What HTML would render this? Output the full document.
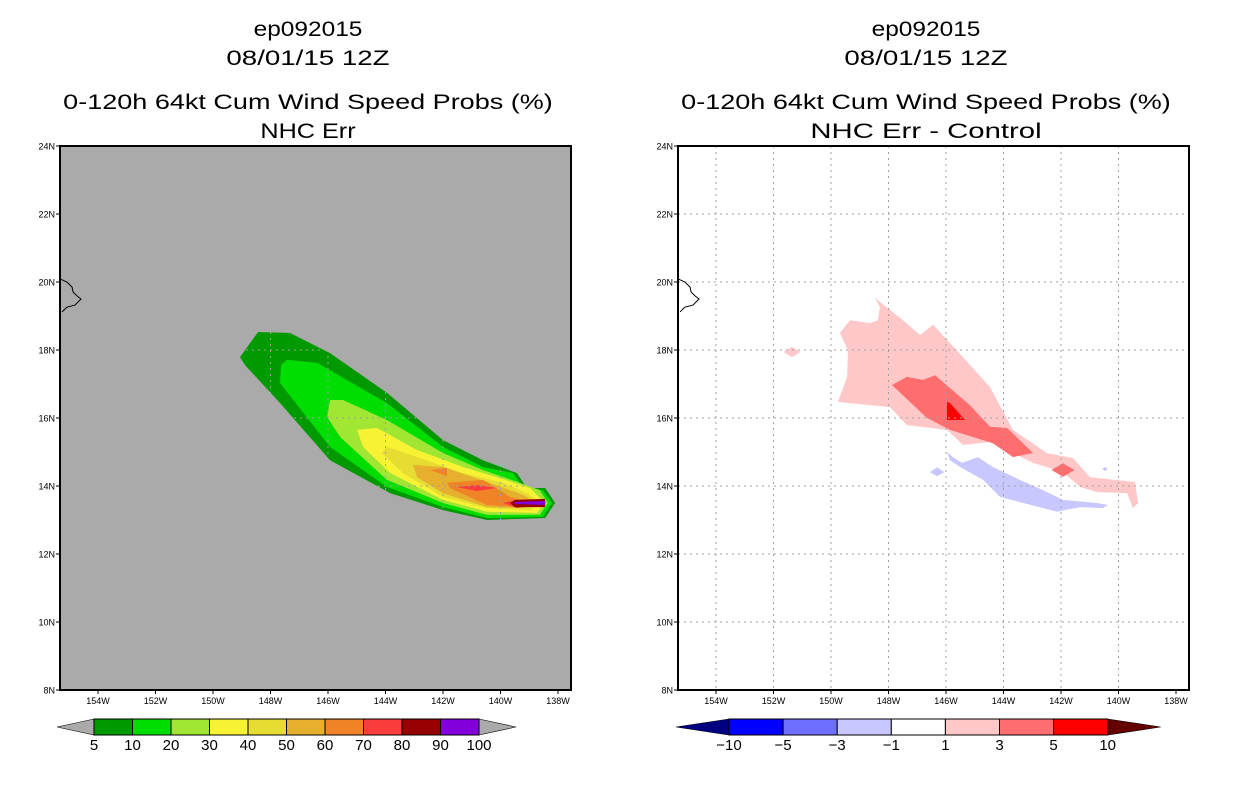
<!DOCTYPE html>
<html><head><meta charset="utf-8"><style>
html,body{margin:0;padding:0;background:#fff}
svg{display:block}
text{font-family:"Liberation Sans",sans-serif;fill:#000}
</style></head><body>
<svg id="root" xmlns="http://www.w3.org/2000/svg" width="1236" height="800" viewBox="0 0 1236 800"></svg>
<script>
// ---------- data ----------
const lonTicks=[154,152,150,148,146,144,142,140,138];
const latTicks=[24,22,20,18,16,14,12,10,8];
const probLevels=["5","10","20","30","40","50","60","70","80","90","100"];
const probColors=["#009900","#00dd00","#a0e632","#f8f234","#e6dc32","#e6af2d","#f08228","#fa3c3c","#960000","#8200dc"];
const diffLevels=["-10","-5","-3","-1","1","3","5","10"];
const diffColors=["#0000ff","#6e6eff","#c8c8ff","#ffffff","#ffc8c8","#ff6e6e","#ff0000"];
const coast=[[155.32,20.09],[155.08,20.0],[154.9,19.85],[154.87,19.71],[154.73,19.59],[154.59,19.5],[154.8,19.32],[155.08,19.26],[155.25,19.12]];
const prob5=[[149.06,17.79],[148.43,18.53],[147.32,18.5],[145.93,17.91],[143.95,16.74],[142.0,15.35],[140.61,14.76],[139.43,14.38],[139.08,13.94],[138.45,13.94],[138.1,13.5],[138.45,13.06],[140.47,13.0],[142.0,13.29],[143.84,13.79],[145.93,14.76],[147.67,16.44],[148.89,17.56]];
const prob10=[[147.43,17.71],[146.38,17.62],[143.95,16.44],[142.0,15.15],[140.61,14.56],[139.57,14.38],[139.22,13.97],[138.52,13.88],[138.21,13.5],[138.52,13.09],[140.47,13.06],[142.0,13.38],[143.95,13.97],[145.93,15.15],[147.67,17.03],[147.63,17.56]];
const prob20=[[145.93,16.53],[145.48,16.53],[143.95,15.94],[142.0,14.97],[140.61,14.47],[139.32,14.09],[138.63,13.88],[138.35,13.5],[138.63,13.15],[140.47,13.15],[142.0,13.5],[143.95,14.18],[145.58,15.44],[146.03,16.03]];
const prob30=[[144.99,15.65],[144.3,15.71],[142.9,15.06],[141.3,14.56],[140.12,14.26],[138.97,13.94],[138.45,13.5],[138.73,13.21],[140.47,13.24],[142.0,13.59],[143.84,14.38],[144.78,15.15]];
const prob40=[[143.95,15.15],[142.9,14.85],[141.3,14.38],[139.91,14.09],[139.08,13.79],[138.63,13.5],[138.97,13.29],[140.47,13.35],[142.0,13.68],[143.39,14.38],[144.12,14.97]];
const prob50=[[143.04,14.62],[142.0,14.56],[140.37,14.09],[139.22,13.74],[138.73,13.5],[139.22,13.35],[140.47,13.38],[142.0,13.79],[142.9,14.26]];
const prob60a=[[142.45,14.47],[141.86,14.53],[141.86,14.29]];
const prob60b=[[141.86,14.09],[140.61,14.18],[139.67,13.68],[138.87,13.5],[139.32,13.38],[140.47,13.44],[141.76,13.94]];
const prob70a=[[141.51,13.97],[140.82,14.03],[140.12,13.94],[140.82,13.85]];
const prob70b=[[139.91,13.5],[139.43,13.59],[138.38,13.53],[139.43,13.35]];
const prob80=[[139.67,13.5],[139.5,13.59],[138.45,13.62],[138.45,13.38],[139.5,13.38]];
const prob90=[[139.5,13.53],[138.45,13.56],[138.45,13.44],[139.5,13.47]];
const diffP1=[[148.47,19.53],[148.3,19.26],[148.37,18.88],[148.64,18.79],[149.34,18.88],[149.69,18.5],[149.41,18.0],[149.44,17.21],[149.76,16.47],[147.95,16.32],[147.36,15.79],[145.97,15.65],[145.41,15.21],[144.47,15.29],[143.67,14.97],[142.97,14.68],[141.93,14.41],[141.34,13.97],[140.75,13.82],[139.7,13.79],[139.5,13.35],[139.32,13.5],[139.43,14.12],[140.99,14.26],[141.58,14.82],[142.49,14.97],[143.67,15.65],[144.47,16.91],[145.41,17.79],[146.45,18.74],[146.9,18.44],[147.5,18.88]];
const diffP1b=[[151.66,17.94],[151.36,18.09],[151.06,17.94],[151.36,17.79]];
const diffP3=[[147.88,16.97],[147.36,17.21],[146.8,17.12],[146.38,17.26],[145.86,16.88],[145.17,16.38],[144.47,15.74],[143.88,15.71],[142.97,14.97],[143.67,14.85],[144.37,15.26],[145.86,15.65],[146.66,16.0]];
const diffP3b=[[142.33,14.47],[141.93,14.67],[141.53,14.47],[141.93,14.27]];
const diffP5=[[145.97,16.47],[145.86,16.44],[145.34,15.94],[145.97,15.94]];
const diffN1=[[145.97,15.0],[145.76,14.85],[145.44,14.68],[144.89,14.85],[144.37,14.56],[143.43,14.18],[142.63,13.88],[141.93,13.59],[140.75,13.5],[140.37,13.44],[140.54,13.35],[141.34,13.38],[142.14,13.24],[144.12,13.68],[144.71,14.18],[145.51,14.56],[145.86,14.76]];
const diffN1b=[[146.56,14.41],[146.31,14.55],[146.06,14.41],[146.31,14.29]];
const diffN1c=[[140.57,14.5],[140.47,14.56],[140.37,14.5],[140.47,14.44]];

// ---------- drawing ----------
const NS="http://www.w3.org/2000/svg";
const root=document.getElementById('root');
function mk(tag,attrs,parent){const e=document.createElementNS(NS,tag);for(const k in attrs)e.setAttribute(k,attrs[k]);(parent||root).appendChild(e);return e;}
const PX=28.75, PY=34;
function xS(off,lon){return off+98+(154-lon)*PX;}
function yS(lat){return 146+(24-lat)*PY;}
function ptsStr(off,arr){return arr.map(p=>xS(off,p[0]).toFixed(1)+","+yS(p[1]).toFixed(1)).join(" ");}

function titles(cx,lines){
  const ys=[36,65,109,138];
  lines.forEach((t,i)=>{
    const tx=mk('text',{x:cx,y:ys[i],'text-anchor':'middle','font-size':21,textLength:t.length*13.6,lengthAdjust:'spacingAndGlyphs'});
    
    
    tx.textContent=t;
  });
}
function axes(off,name){
  const g=mk('g',{});
  
  
  latTicks.forEach(l=>{
    const y=yS(l);
    mk('line',{x1:off+56,x2:off+60,y1:y,y2:y,stroke:'#000'},g);
    const t=mk('text',{x:off+55,y:y+3.5,'text-anchor':'end','font-size':9},g);
    
    
    t.textContent=l+"N";
  });
  lonTicks.forEach(l=>{
    const x=xS(off,l);
    mk('line',{x1:x,x2:x,y1:690,y2:694,stroke:'#000'},g);
    const t=mk('text',{x:x,y:704,'text-anchor':'middle','font-size':9},g);
    
    
    t.textContent=l+"W";
  });
}
function grid(off,parent,clip){
  const g=mk('g',{stroke:'#a0a0a0','stroke-width':1,'stroke-dasharray':'2,4'},parent);
  if(clip)g.setAttribute('clip-path','url(#'+clip+')');
  
  
  lonTicks.slice(0,8).forEach(l=>{const x=xS(off,l);mk('line',{x1:x,x2:x,y1:146,y2:690},g);});
  latTicks.slice(1,8).forEach(l=>{const y=yS(l);mk('line',{x1:off+60,x2:off+571,y1:y,y2:y},g);});
}
function poly(off,arr,fill,name,parent){
  const p=mk('polygon',{points:ptsStr(off,arr),fill:fill},parent);
  
  
}
function colorbar(x0,boxW,colors,labels,leftTri,rightTri,triW,name){
  const g=mk('g',{});
  
  
  const y0=719,y1=735,ym=727;
  const xe=x0+boxW*colors.length;
  mk('polygon',{points:`${x0},${y0} ${x0-triW},${ym} ${x0},${y1}`,fill:leftTri,stroke:'#000','stroke-width':0.6},g);
  mk('polygon',{points:`${xe},${y0} ${xe+triW},${ym} ${xe},${y1}`,fill:rightTri,stroke:'#000','stroke-width':0.6},g);
  colors.forEach((c,i)=>{
    const r=mk('rect',{x:x0+i*boxW,y:y0,width:boxW,height:16,fill:c,stroke:'#000','stroke-width':1},g);
    
    
  });
  labels.forEach((l,i)=>{
    const t=mk('text',{x:x0+i*boxW,y:750,'text-anchor':'middle','font-size':15},g);
    
    
    t.textContent=l.replace('-','\u2212');
  });
}

// defs
const defs=mk('defs',{});
const cp=mk('clipPath',{id:'plumeClip'},defs);
mk('polygon',{points:ptsStr(0,prob5)},cp);
const cpL=mk('clipPath',{id:'leftBox'},defs);mk('rect',{x:60,y:146,width:511,height:544},cpL);
const cpR=mk('clipPath',{id:'rightBox'},defs);mk('rect',{x:678,y:146,width:511,height:544},cpR);

// LEFT PANEL
titles(308,["ep092015","08/01/15 12Z","0-120h 64kt Cum Wind Speed Probs (%)","NHC Err"]);
const L=mk('g',{'clip-path':'url(#leftBox)'});


mk('rect',{x:60,y:146,width:511,height:544,fill:'#aaaaaa'},L);
poly(0,prob5,probColors[0],'prob-5',L);
poly(0,prob10,probColors[1],'prob-10',L);
poly(0,prob20,probColors[2],'prob-20',L);
poly(0,prob30,probColors[3],'prob-30',L);
poly(0,prob40,probColors[4],'prob-40',L);
poly(0,prob50,probColors[5],'prob-50',L);
poly(0,prob60a,probColors[6],'prob-60',L);
poly(0,prob60b,probColors[6],'prob-60',L);
poly(0,prob70a,probColors[7],'prob-70',L);
poly(0,prob70b,probColors[7],'prob-70',L);
poly(0,prob80,probColors[8],'prob-80',L);
poly(0,prob90,probColors[9],'prob-90',L);
grid(0,L,'plumeClip');
mk('polyline',{points:ptsStr(0,coast),fill:'none',stroke:'#000','stroke-width':1},L);
const fL=mk('rect',{x:60,y:146,width:511,height:544,fill:'none',stroke:'#000','stroke-width':2});

axes(0,'left');
colorbar(94,38.5,probColors,probLevels,'#aaaaaa','#aaaaaa',37,'left-colorbar');

// RIGHT PANEL
titles(926,["ep092015","08/01/15 12Z","0-120h 64kt Cum Wind Speed Probs (%)","NHC Err - Control"]);
const R=mk('g',{'clip-path':'url(#rightBox)'});


mk('rect',{x:678,y:146,width:511,height:544,fill:'#ffffff'},R);
poly(618,diffP1,diffColors[4],'diff-1to3',R);
poly(618,diffP1b,diffColors[4],'diff-1to3',R);
poly(618,diffP3,diffColors[5],'diff-3to5',R);
poly(618,diffP3b,diffColors[5],'diff-3to5',R);
poly(618,diffP5,diffColors[6],'diff-5to10',R);
poly(618,diffN1,diffColors[2],'diff-neg1to3',R);
poly(618,diffN1b,diffColors[2],'diff-neg1to3',R);
poly(618,diffN1c,diffColors[2],'diff-neg1to3',R);
grid(618,R,null);
mk('polyline',{points:ptsStr(618,coast),fill:'none',stroke:'#000','stroke-width':1},R);
const fR=mk('rect',{x:678,y:146,width:511,height:544,fill:'none',stroke:'#000','stroke-width':2});

axes(618,'right');
colorbar(729,54.1,diffColors,diffLevels,'#000080','#640000',53,'right-colorbar');
</script>
</body></html>
